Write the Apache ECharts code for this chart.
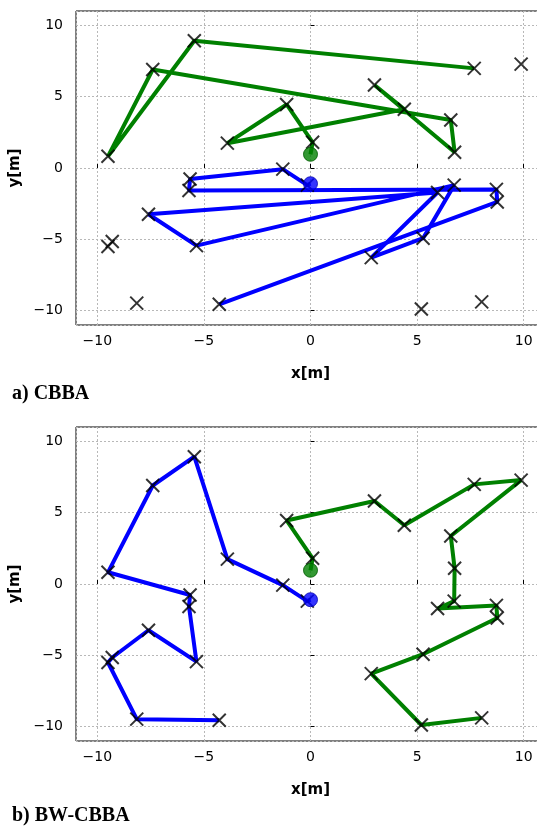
<!DOCTYPE html>
<html>
<head>
<meta charset="utf-8">
<script src="https://cdn.jsdelivr.net/npm/echarts@6/dist/echarts.min.js"></script>
<style>
  html, body { margin: 0; padding: 0; background: #fff; }
  #chart { width: 537px; height: 828px; }
</style>
</head>
<body>
<div id="chart"></div>
<script>
// target positions (same 30 targets in both panels)
const targetX = [-1.3, -3.9, -5.45, -7.4, -9.5, -5.65, -5.7, -5.35, -7.6, -9.3,
  -9.5, -8.15, -4.28, 0.1, -1.12, 3.0, 4.4, 7.68, 9.88, 6.58,
  6.76, 6.74, 5.96, 8.72, 8.76, 5.28, 2.85, 5.2, 8.03, -0.15];
const targetY = [-0.08, 1.74, 8.92, 6.9, 0.82, -0.77, -1.58, -5.44, -3.24, -5.15,
  -5.5, -9.47, -9.55, 1.8, 4.45, 5.82, 4.12, 6.98, 7.28, 3.36,
  1.1, -1.2, -1.72, -1.5, -2.38, -4.92, -6.28, -9.88, -9.38, -1.2];

// agent start positions
const blueAgent = [0, -1.1];
const greenAgent = [0, 0.96];

// routes as target indices, a) CBBA
const cbbaBlue = [29, 0, 5, 6, 23, 24, 12];
const cbbaBlueLoop = [7, 21, 25, 26, 22, 8, 7];
const cbbaGreen = [13, 14, 1, 16, 15, 20, 19, 3, 4, 2, 17];
// routes b) BW-CBBA
const bwBlue = [29, 0, 1, 2, 3, 4, 5, 6, 7, 8, 9, 10, 11, 12];
const bwGreen = [13, 14, 15, 16, 17, 18, 19, 20, 21, 22, 23, 24, 25, 26, 27, 28];

const tickLabels = ["-10", "-5", "0", "5", "10"];

const BLUE = "#0000ff";
const GREEN = "#008000";

function pts(route, start) {
  let out = route.map((i) => [targetX[i], targetY[i]]);
  if (start) out.unshift(start);
  return out;
}

const chart = echarts.init(document.getElementById("chart"), null, { renderer: "canvas" });

function xAx(grid) {
  return {
    gridIndex: grid,
    type: "value",
    min: -11,
    max: 11,
    splitNumber: 5,
    name: "x[m]",
    nameLocation: "middle",
    nameGap: 42,
    nameTextStyle: { fontFamily: "DejaVu Sans", fontWeight: "bold", fontSize: 15, color: "#000" },
    axisLine: { show: false },
    axisTick: { show: true, inside: true, length: 4, lineStyle: { color: "#000" } },
    axisLabel: {
      showMinLabel: false,
      showMaxLabel: false,
      margin: 9,
      fontFamily: "DejaVu Sans",
      fontSize: 14,
      color: "#000",
      formatter: (v) => (tickLabels.includes(String(v)) ? String(v).replace("-", "\u2212") : ""),
    },
    splitLine: { show: true, lineStyle: { color: "#b8b8b8", type: [2, 2], width: 1 } },
  };
}

function yAx(grid) {
  return {
    gridIndex: grid,
    type: "value",
    min: -11,
    max: 11,
    splitNumber: 5,
    name: "y[m]",
    nameLocation: "middle",
    nameGap: 48,
    nameTextStyle: { fontFamily: "DejaVu Sans", fontWeight: "bold", fontSize: 15, color: "#000" },
    axisLine: { show: false },
    axisTick: { show: true, inside: true, length: 4, lineStyle: { color: "#000" } },
    axisLabel: {
      showMinLabel: false,
      showMaxLabel: false,
      margin: 13,
      fontFamily: "DejaVu Sans",
      fontSize: 14,
      color: "#000",
      formatter: (v) => (tickLabels.includes(String(v)) ? String(v).replace("-", "\u2212") : ""),
    },
    splitLine: { show: true, lineStyle: { color: "#b8b8b8", type: [2, 2], width: 1 } },
  };
}

function route(grid, data, color) {
  return {
    type: "line",
    xAxisIndex: grid,
    yAxisIndex: grid,
    data: data,
    showSymbol: false,
    silent: true,
    z: 2,
    lineStyle: { color: color, width: 4 },
    animation: false,
  };
}

function targets(grid) {
  return {
    type: "scatter",
    xAxisIndex: grid,
    yAxisIndex: grid,
    data: pts(targetX.map((_, i) => i)),
    symbol: "path://M0,0L10,10M10,0L0,10",
    symbolSize: 13,
    itemStyle: { color: "rgba(0,0,0,0)", borderColor: "#000", borderWidth: 2 },
    z: 3,
    animation: false,
  };
}

function agent(grid, p, color) {
  return {
    type: "scatter",
    xAxisIndex: grid,
    yAxisIndex: grid,
    data: [p],
    symbol: "circle",
    symbolSize: 14,
    itemStyle: { color: color, borderColor: color === GREEN ? "#005a00" : "#0000b0", borderWidth: 1 },
    z: 4,
    animation: false,
  };
}

let option = {
  animation: false,
  grid: [
    { left: 76, top: 11, width: 469, height: 314, outerBoundsMode: "none", containLabel: false, show: true, borderColor: "#000", borderWidth: 1, backgroundColor: "#fff" },
    { left: 76, top: 427, width: 469, height: 314, outerBoundsMode: "none", containLabel: false, show: true, borderColor: "#000", borderWidth: 1, backgroundColor: "#fff" },
  ],
  xAxis: [xAx(0), xAx(1)],
  yAxis: [yAx(0), yAx(1)],
  series: [
    route(0, pts(cbbaGreen, greenAgent), GREEN),
    route(0, pts(cbbaBlue, blueAgent), BLUE),
    route(0, pts(cbbaBlueLoop), BLUE),
    targets(0),
    agent(0, greenAgent, GREEN),
    agent(0, blueAgent, BLUE),
    route(1, pts(bwGreen, greenAgent), GREEN),
    route(1, pts(bwBlue, blueAgent), BLUE),
    targets(1),
    agent(1, greenAgent, GREEN),
    agent(1, blueAgent, BLUE),
  ],
  graphic: [
    {
      type: "text",
      left: 12,
      top: 384,
      style: { text: "a) CBBA", font: "bold 20px 'Liberation Serif'", fill: "#000" },
    },
    {
      type: "text",
      left: 12,
      top: 806,
      style: { text: "b) BW-CBBA", font: "bold 20px 'Liberation Serif'", fill: "#000" },
    },
  ],
};

chart.setOption(option);
</script>
</body>
</html>
